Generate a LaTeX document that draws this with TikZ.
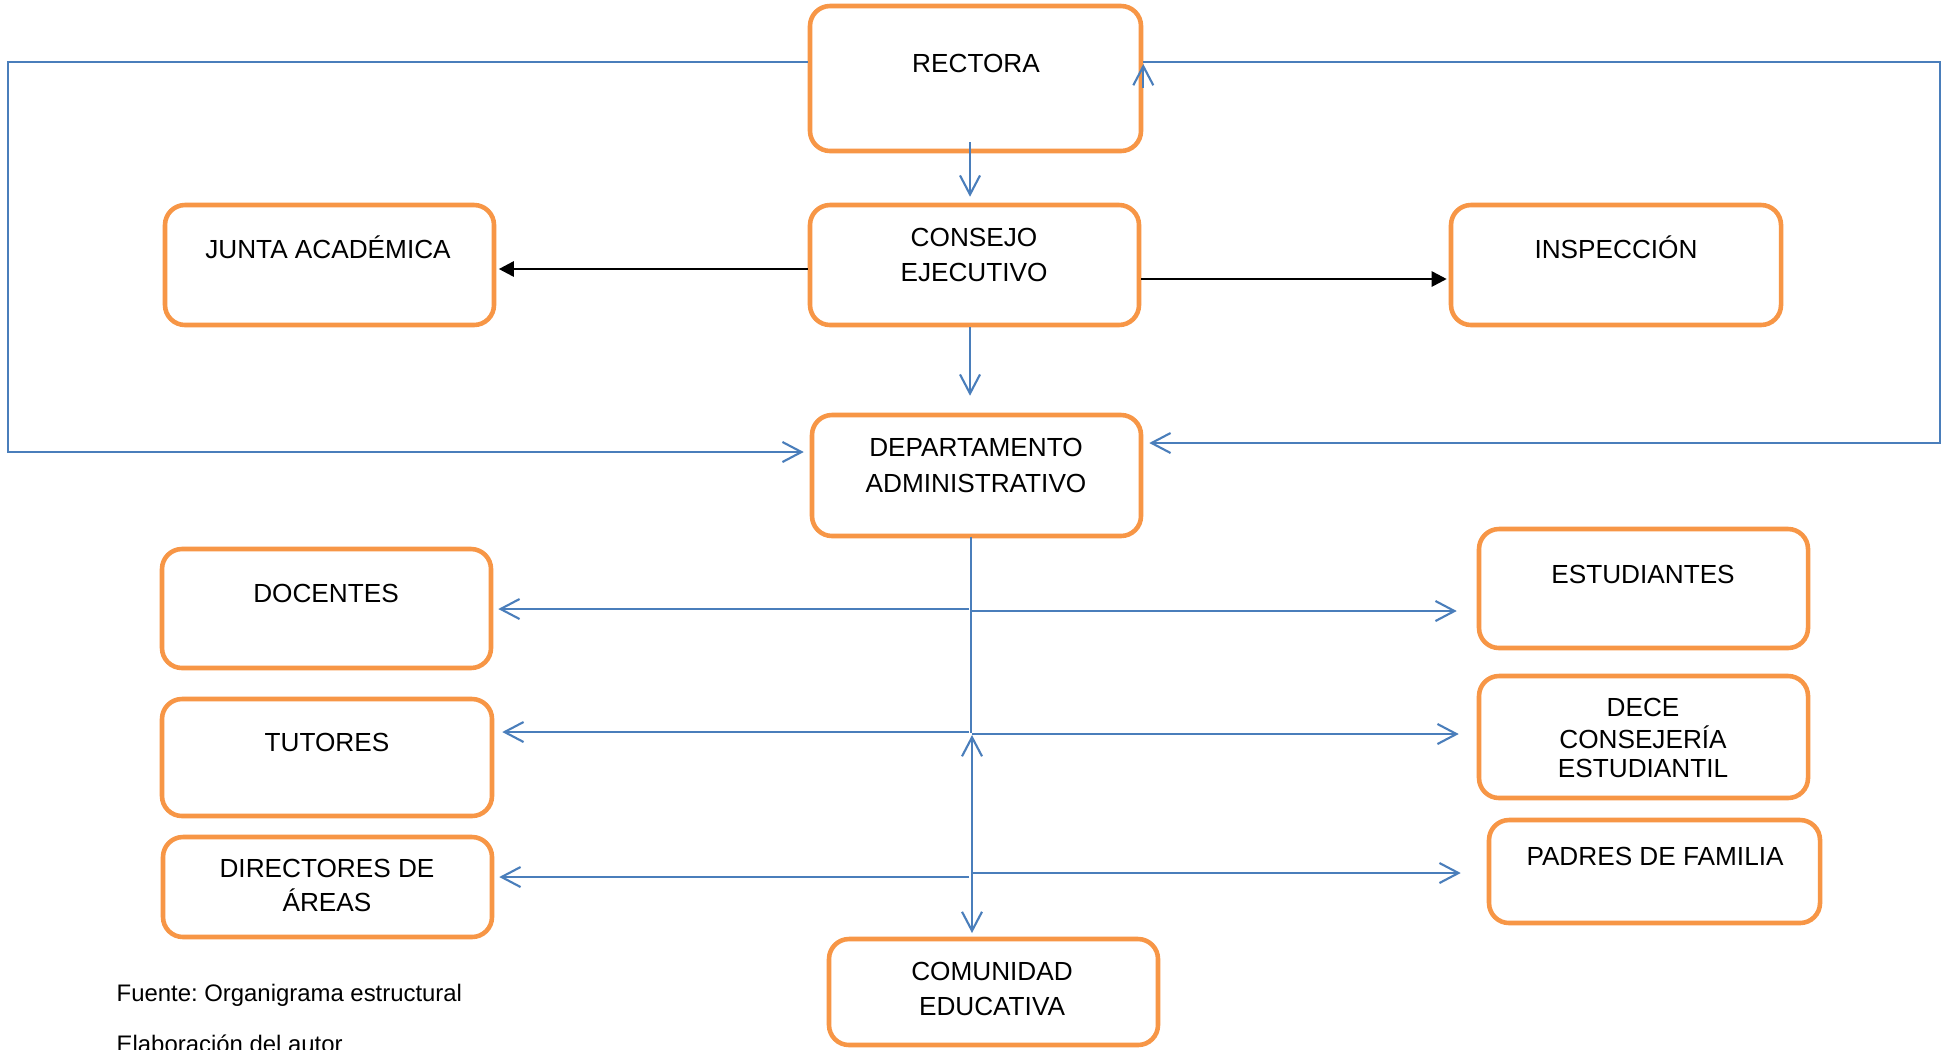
\documentclass[tikz,border=0pt]{standalone}
\usepackage{fontspec}
\setmainfont{Liberation Sans}
\usetikzlibrary{arrows.meta,calc}
\definecolor{borange}{HTML}{F79646}
\definecolor{cblue}{HTML}{4A7EBB}
\frenchspacing
\begin{document}
\begin{tikzpicture}[x=0.1mm,y=-0.1mm,
  box/.style={draw=borange, line width=1.3pt, rounded corners=2mm, inner sep=0pt, fill=white},
  txt/.style={font=\fontsize{7.45}{9}\selectfont, anchor=base, inner sep=0pt},
  note/.style={font=\fontsize{6.8}{8}\selectfont, anchor=base west, inner sep=0pt},
  conn/.style={draw=cblue, line width=0.6pt},
  barb/.style={-{Straight Barb[length=1.9mm,width=2.0mm]}},
  dbarb/.style={{Straight Barb[length=1.9mm,width=2.0mm]}-{Straight Barb[length=1.9mm,width=2.0mm]}},
  blk/.style={draw=black, line width=0.75pt, -{Triangle[length=1.5mm,width=1.5mm]}}]
\useasboundingbox (0,0) rectangle (1948,1049);
\clip (0,0) rectangle (1948,1049);
\fill[white] (0,0) rectangle (1948,1049);

% helper coordinates
\coordinate (y62) at (0,62);
\coordinate (y64) at (0,64);
\coordinate (y88) at (0,88);
\coordinate (y269) at (0,269);
\coordinate (y279) at (0,279);
\coordinate (lc) at (8,452);
\coordinate (rc) at (1940,443);
\coordinate (rtop) at (1940,62);
\coordinate (x970) at (970,0);

% boxes
\node[box, minimum width=33.1mm, minimum height=14.5mm] (rect) at (975.5,78.5) {};
\node[box, minimum width=32.9mm, minimum height=12.0mm] (junta) at (329.5,265) {};
\node[box, minimum width=32.9mm, minimum height=12.0mm] (cons) at (974.5,265) {};
\node[box, minimum width=33.0mm, minimum height=12.0mm] (insp) at (1616,265) {};
\node[box, minimum width=32.9mm, minimum height=12.1mm] (dep) at (976.5,475.5) {};
\node[box, minimum width=32.9mm, minimum height=11.9mm] (doc) at (326.5,608.5) {};
\node[box, minimum width=33.0mm, minimum height=11.7mm] (tut) at (327,757.5) {};
\node[box, minimum width=32.9mm, minimum height=10.0mm] (dir) at (327.5,887) {};
\node[box, minimum width=32.9mm, minimum height=11.9mm] (est) at (1643.5,588.5) {};
\node[box, minimum width=32.9mm, minimum height=12.2mm] (dece) at (1643.5,737) {};
\node[box, minimum width=33.1mm, minimum height=10.3mm] (pad) at (1654.5,871.5) {};
\node[box, minimum width=32.9mm, minimum height=10.6mm] (com) at (993.5,992) {};

% texts
\node[txt] (t-rect) at (976,72) {RECTORA};
\node[txt] (t-junta) at (328,258) {JUNTA ACADÉMICA};
\node[txt] (t-cons1) at (974,246) {CONSEJO};
\node[txt] (t-cons2) at (974,281) {EJECUTIVO};
\node[txt] (t-insp) at (1616,258) {INSPECCIÓN};
\node[txt] (t-dep1) at (976,456) {DEPARTAMENTO};
\node[txt] (t-dep2) at (976,492) {ADMINISTRATIVO};
\node[txt] (t-doc) at (326,602) {DOCENTES};
\node[txt] (t-tut) at (327,751) {TUTORES};
\node[txt] (t-dir1) at (327,877) {DIRECTORES DE};
\node[txt] (t-dir2) at (327,911) {ÁREAS};
\node[txt] (t-est) at (1643,583) {ESTUDIANTES};
\node[txt] (t-dece1) at (1643,716) {DECE};
\node[txt] (t-dece2) at (1643,748) {CONSEJERÍA};
\node[txt] (t-dece3) at (1643,777) {ESTUDIANTIL};
\node[txt] (t-pad) at (1655,865) {PADRES DE FAMILIA};
\node[txt] (t-com1) at (992,980) {COMUNIDAD};
\node[txt] (t-com2) at (992,1015) {EDUCATIVA};
\node[note] (fuente) at (116,1001) {Fuente: Organigrama estructural};
\node[note] (elab) at (116,1052) {Elaboración del autor};

% top connectors
\draw[conn, barb] (rect.west |- y62) -| (lc) -- ([xshift=-0.6mm]dep.west |- lc);
\draw[conn, barb] (rect.east |- y62) -- (rtop) -- (rc) -- ([xshift=0.6mm]dep.east |- rc);
\draw[conn, barb] (rect.east |- y88) -- (rect.east |- y64);
\draw[conn, barb] ([yshift=1.1mm]x970 |- rect.south) -- ([yshift=0.6mm]x970 |- cons.north);
\draw[conn, barb] (x970 |- cons.south) -- ([yshift=1.7mm]x970 |- dep.north);
\draw[blk] (cons.west |- y269) -- ([xshift=0.25mm]junta.east |- y269);
\draw[blk] (cons.east |- y279) -- ([xshift=-0.2mm]insp.west |- y279);

% trunk
\coordinate (j0) at (971,537);
\coordinate (jm) at (971,733);
\coordinate (ja) at (972,735);
\coordinate (jb) at (972,933);
\coordinate (l1) at (969,609);
\coordinate (r1) at (972,611);
\coordinate (l2) at (969,732);
\coordinate (r2) at (972,734);
\coordinate (l3) at (969,877);
\coordinate (r3) at (973,873);
\draw[conn] (j0) -- (jm);
\draw[conn, dbarb] (ja) -- (jb);

\draw[conn, barb] (l1) -- ([xshift=0.5mm]doc.east |- l1);
\draw[conn, barb] (r1) -- ([xshift=-2.0mm]est.west |- r1);
\draw[conn, barb] (l2) -- ([xshift=0.8mm]tut.east |- l2);
\draw[conn, barb] (r2) -- ([xshift=-1.8mm]dece.west |- r2);
\draw[conn, barb] (l3) -- ([xshift=0.5mm]dir.east |- l3);
\draw[conn, barb] (r3) -- ([xshift=-2.6mm]pad.west |- r3);
\end{tikzpicture}
\end{document}
